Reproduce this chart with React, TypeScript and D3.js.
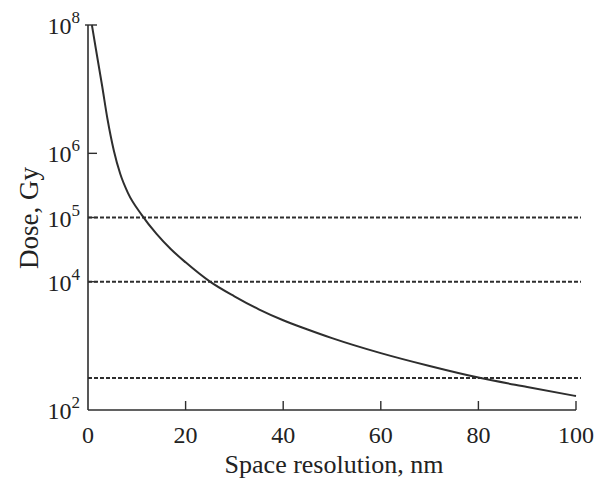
import React from 'react';
import * as d3 from 'd3';

// values
const resolution = [0.8, 1.6, 2.9, 4, 5.3, 6.6, 8.2, 11, 14, 17, 20, 25, 30, 35, 40, 45, 50, 60, 70, 80, 90, 100];
const dose = [1e8, 4.3e7, 1.12e7, 3.4e6, 1.1e6, 4.8e5, 2.4e5, 1.1e5, 5.6e4, 3.2e4, 2e4, 1e4, 5.9e3, 3.7e3, 2.5e3, 1.8e3, 1.32e3, 770, 485, 320, 228, 165];
const thresholds = [1e5, 1e4, 316];
const xTicks = [0, 20, 40, 60, 80, 100];
const yTicks = [
  { v: 1e8, exp: '8' },
  { v: 1e6, exp: '6' },
  { v: 1e5, exp: '5' },
  { v: 1e4, exp: '4' },
  { v: 1e2, exp: '2' },
];

const width = 607;
const height = 481;
const margin = { top: 25, right: 31, bottom: 71, left: 88 };
const ink = '#2e2e2e';
const font = '"Liberation Serif", "Times New Roman", serif';

export default function App() {
  const x = d3.scaleLinear().domain([0, 100]).range([margin.left, width - margin.right]);
  const y = d3.scaleLog().domain([1e2, 1e8]).range([height - margin.bottom, margin.top]);

  const data = resolution.map((r, i) => ({ r, d: dose[i] }));
  const line = d3.line<{ r: number; d: number }>()
    .x(p => x(p.r))
    .y(p => y(p.d))
    .curve(d3.curveMonotoneX);

  const x0 = x(0);
  const y0 = y(1e2);

  return (
    <svg width={width} height={height} style={{ position: 'absolute', left: 0, top: 0, background: '#fff' }}>
      {/* threshold lines */}
      {thresholds.map(t => (
        <line key={t} x1={x0} x2={x(100) + 5} y1={y(t)} y2={y(t)}
          stroke={ink} strokeWidth={2} strokeDasharray="4,2" />
      ))}

      {/* axes */}
      <line x1={x0} x2={x0} y1={y(1e8)} y2={y0} stroke={ink} strokeWidth={1.6} />
      <line x1={x0} x2={x(100)} y1={y0} y2={y0} stroke={ink} strokeWidth={1.6} />

      {xTicks.filter(t => t > 0).map(t => (
        <line key={t} x1={x(t)} x2={x(t)} y1={y0} y2={y0 - 9} stroke={ink} strokeWidth={1.4} />
      ))}
      {yTicks.filter(t => t.v > 1e2).map(t => (
        <line key={t.v} x1={t.v === 1e8 ? x0 - 3 : x0} x2={x0 + 9} y1={y(t.v)} y2={y(t.v)}
          stroke={ink} strokeWidth={1.4} />
      ))}

      {/* tick labels */}
      {xTicks.map(t => (
        <text key={t} x={x(t)} y={y0 + 33} textAnchor="middle" fontFamily={font} fontSize={24} fill="#222">
          {t}
        </text>
      ))}
      {yTicks.map(t => (
        <text key={t.v} x={80} y={y(t.v) + 9} textAnchor="end" fontFamily={font} fontSize={24} fill="#222">
          <tspan>10</tspan>
          <tspan dy={-11} fontSize={17}>{t.exp}</tspan>
        </text>
      ))}

      {/* curve */}
      <path d={line(data) || ''} fill="none" stroke={ink} strokeWidth={2} />

      {/* axis titles */}
      <text x={334} y={473} textAnchor="middle" fontFamily={font} fontSize={26} fill="#222">
        Space resolution, nm
      </text>
      <text transform={`translate(38,218) rotate(-90)`} textAnchor="middle" fontFamily={font} fontSize={27} fill="#222">
        Dose, Gy
      </text>
    </svg>
  );
}
